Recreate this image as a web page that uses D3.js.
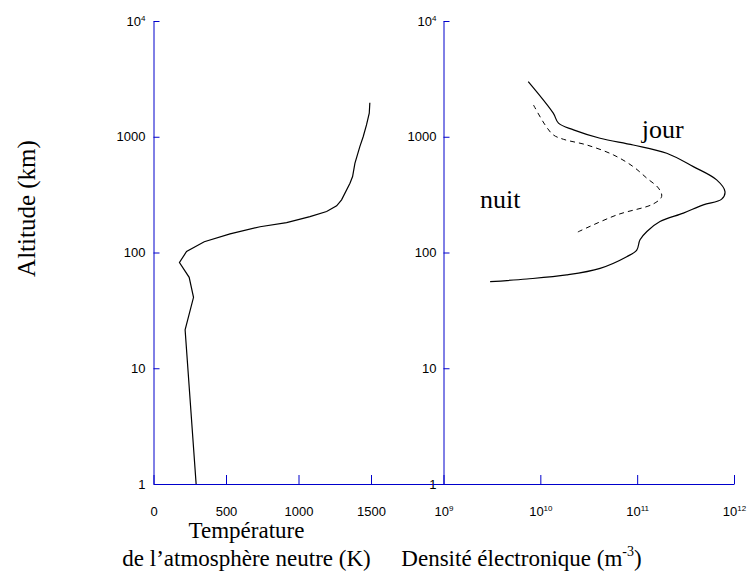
<!DOCTYPE html>
<html>
<head>
<meta charset="utf-8">
<script src="https://cdn.jsdelivr.net/npm/d3@7"></script>
<style>
  body { margin: 0; background: #fff; }
  svg { display: block; }
</style>
</head>
<body>
<svg id="chart" width="747" height="574"></svg>
<script>
// ---- Data ----
// Left panel: neutral atmosphere temperature profile
const tempAltitude = [1, 21.5, 41, 61, 82, 102, 124, 145, 167, 181, 204, 226, 253, 285, 397, 453, 590, 822, 1000, 1265, 1596, 1970];
const tempKelvin   = [294, 218, 276, 246, 179, 228, 350, 528, 735, 918, 1079, 1194, 1263, 1297, 1355, 1373, 1389, 1423, 1446, 1469, 1488, 1492];

// Right panel: electron density, day ("jour")
const dayAltitude = [3000, 1600, 1310, 1146, 971, 849, 720, 552, 424, 336, 289, 258, 219, 185, 152, 129, 105, 92, 73, 64, 59, 56];
const dayDensity  = [7.5e9, 1.36e10, 1.54e10, 2.2e10, 4.14e10, 9.1e10, 2.02e11, 3.8e11, 6.62e11, 8.07e11, 7.46e11, 4.82e11, 3.0e11, 1.72e11, 1.26e11, 1.07e11, 9.9e10, 7.8e10, 4.14e10, 1.87e10, 7.26e9, 3.03e9];

// Right panel: electron density, night ("nuit")
const nightAltitude = [1880, 1265, 1038, 951, 849, 697, 552, 438, 360, 305, 263, 211, 149];
const nightDensity  = [8.5e9, 1.12e10, 1.36e10, 1.73e10, 3.02e10, 5.68e10, 9.1e10, 1.26e11, 1.66e11, 1.79e11, 1.47e11, 6.15e10, 2.38e10];

// Ticks
const altTicks = [1, 10, 100, 1000, 10000];
const tempTicks = [0, 500, 1000, 1500];
const densTicks = [1e9, 1e10, 1e11, 1e12];

// Labels
const yTitle = "Altitude (km)";
const xTitleLeft1 = "Température";
const xTitleLeft2 = "de l\u2019atmosphère neutre (K)";
const xTitleRight = "Densité électronique (m";
const dayLabel = "jour";
const nightLabel = "nuit";

// ---- Layout ----
const svg = d3.select("#chart");
const axisColor = "#0000cc";
const y = d3.scaleLog().domain([1, 1e4]).range([484, 21]);
const xT = d3.scaleLinear().domain([0, 2000]).range([153.5, 443.5]);
const xD = d3.scaleLog().domain([1e9, 1e12]).range([443.5, 734]);

const supMap = { 10000: "4" };
function styleAxis(g) {
  g.selectAll("path.domain").attr("stroke", axisColor).attr("stroke-width", 1);
  g.selectAll(".tick line").attr("stroke", axisColor).attr("stroke-width", 1);
  g.selectAll("text").attr("fill", "#000").attr("font-family", "Liberation Sans, Arial, sans-serif").attr("font-size", 13);
}

function yLabel(text, d) {
  text.text(null);
  if (d === 10000) {
    text.append("tspan").text("10");
    text.append("tspan").attr("font-size", 8).attr("dy", "-0.6em").text("4");
  } else {
    text.text(String(d));
  }
}

// Y axes
[xT.range()[0], xD.range()[0]].forEach((px, i) => {
  const g = svg.append("g").attr("transform", `translate(${px},0)`)
    .call(d3.axisLeft(y).tickValues(altTicks).tickSizeInner(-6).tickSizeOuter(0).tickPadding(i === 0 ? 8 : 7));
  styleAxis(g);
  g.selectAll(".tick text").each(function(d) { yLabel(d3.select(this), d); });
});

// X axes
const gxT = svg.append("g").attr("transform", "translate(0,484)")
  .call(d3.axisBottom(xT).tickValues(tempTicks).tickSizeInner(-9).tickSizeOuter(0).tickPadding(23).tickFormat(d3.format("d")));
styleAxis(gxT);
const gxD = svg.append("g").attr("transform", "translate(0,484)")
  .call(d3.axisBottom(xD).tickValues(densTicks).tickSizeInner(-9).tickSizeOuter(0).tickPadding(23));
styleAxis(gxD);
gxD.selectAll(".tick text").each(function(d) {
  const t = d3.select(this);
  t.text(null);
  t.append("tspan").text("10");
  t.append("tspan").attr("font-size", 8).attr("dy", "-0.6em").text(String(Math.round(Math.log10(d))));
});

// Curves
const lineT = d3.line().x(d => xT(d[0])).y(d => y(d[1])).curve(d3.curveLinear);
svg.append("path").datum(tempKelvin.map((v, i) => [v, tempAltitude[i]]))
  .attr("d", lineT).attr("fill", "none").attr("stroke", "#000").attr("stroke-width", 1.2);

const lineD = d3.line().x(d => xD(d[0])).y(d => y(d[1])).curve(d3.curveCatmullRom.alpha(0.5));
svg.append("path").datum(dayDensity.map((v, i) => [v, dayAltitude[i]]))
  .attr("d", lineD).attr("fill", "none").attr("stroke", "#000").attr("stroke-width", 1.2);
svg.append("path").datum(nightDensity.map((v, i) => [v, nightAltitude[i]]))
  .attr("d", lineD).attr("fill", "none").attr("stroke", "#000").attr("stroke-width", 1)
  .attr("stroke-dasharray", "5,4");

// Text labels
const serif = "Liberation Serif, Times New Roman, serif";
svg.append("text").attr("x", 35).attr("y", 208.5).attr("transform", "rotate(-90,35,208.5)")
  .attr("text-anchor", "middle").attr("font-family", serif).attr("font-size", 25).text(yTitle);
svg.append("text").attr("x", 246.5).attr("y", 538).attr("text-anchor", "middle")
  .attr("font-family", serif).attr("font-size", 23).text(xTitleLeft1);
svg.append("text").attr("x", 246.5).attr("y", 566).attr("text-anchor", "middle")
  .attr("font-family", serif).attr("font-size", 23).text(xTitleLeft2);
const tr = svg.append("text").attr("x", 521.5).attr("y", 566).attr("text-anchor", "middle")
  .attr("font-family", serif).attr("font-size", 23);
tr.append("tspan").text(xTitleRight);
tr.append("tspan").attr("font-size", 14).attr("dy", "-0.75em").text("-3");
tr.append("tspan").attr("dy", "0.46em").text(")");
svg.append("text").attr("x", 641.7).attr("y", 138).attr("font-family", serif).attr("font-size", 26).text(dayLabel);
svg.append("text").attr("x", 480).attr("y", 208).attr("font-family", serif).attr("font-size", 26).text(nightLabel);
</script>
</body>
</html>
